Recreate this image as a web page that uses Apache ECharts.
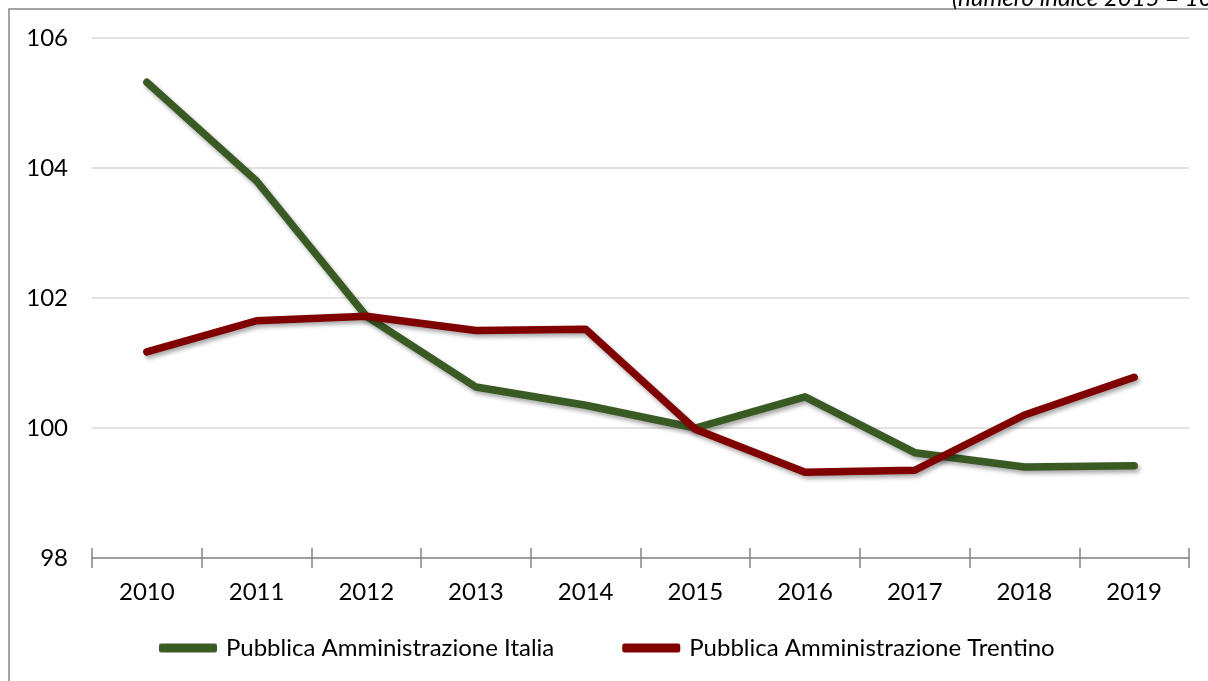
<!DOCTYPE html>
<html>
<head>
<meta charset="utf-8">
<script src="https://cdn.jsdelivr.net/npm/echarts@6/dist/echarts.min.js"></script>
<style>
  html, body { margin: 0; padding: 0; background: #fff; }
  #chart { width: 1208px; height: 681px; }
</style>
</head>
<body>
<div id="chart"></div>
<script>
// anni
var years = ['2010', '2011', '2012', '2013', '2014', '2015', '2016', '2017', '2018', '2019'];
// numero indice 2015 = 100
var italia = [105.32, 103.8, 101.72, 100.63, 100.35, 100.0, 100.48, 99.62, 99.4, 99.42];
var trentino = [101.17, 101.65, 101.72, 101.5, 101.52, 99.98, 99.32, 99.35, 100.2, 100.78];
var seriesNames = ['Pubblica Amministrazione Italia', 'Pubblica Amministrazione Trentino'];
var seriesColors = ['#3a5a24', '#800000'];
var note = '(numero indice 2015 = 100)';

var chartDom = document.getElementById('chart');
var myChart = echarts.init(chartDom);

var font = 'Lato, "Open Sans", sans-serif';

function makeLine(name, data, color) {
  return {
    name: name,
    type: 'line',
    data: data,
    symbol: 'none',
    color: color,
    lineStyle: {
      width: 7.5,
      color: color,
      cap: 'round',
      join: 'round',
      shadowColor: 'rgba(0,0,0,0.35)',
      shadowBlur: 4,
      shadowOffsetX: 2,
      shadowOffsetY: 3
    },
    animation: false
  };
}

var option = {
  backgroundColor: '#fff',
  textStyle: { fontFamily: font },
  graphic: [
    {
      type: 'rect',
      shape: { x: 9, y: 9, width: 1300, height: 800 },
      style: { fill: 'none', stroke: '#868686', lineWidth: 1.5 },
      silent: true
    },
    {
      type: 'text',
      left: 952,
      top: -14,
      style: {
        text: note,
        fontFamily: font,
        fontStyle: 'italic',
        fontSize: 24,
        fill: '#000'
      },
      silent: true
    }
  ],
  grid: { left: 92, right: 19, top: 38, bottom: 123 },
  legend: {
    top: 631,
    left: 154,
    itemWidth: 58,
    itemHeight: 9,
    itemGap: 68,
    icon: 'roundRect',
    textStyle: { fontSize: 24, color: '#000', fontFamily: font, padding: [0, 0, 0, 4] },
    data: seriesNames
  },
  xAxis: [
    {
      type: 'category',
      data: years,
      boundaryGap: true,
      axisLine: { lineStyle: { color: '#868686', width: 1.5 } },
      axisTick: { show: true, length: 10, inside: false, lineStyle: { color: '#868686', width: 1.5 } },
      axisLabel: { fontSize: 24, color: '#000', margin: 22, fontFamily: font }
    },
    {
      type: 'category',
      data: years,
      position: 'bottom',
      boundaryGap: true,
      axisLine: { show: false },
      axisTick: { show: true, length: 10, inside: true, lineStyle: { color: '#868686', width: 1.5 } },
      axisLabel: { show: false }
    }
  ],
  yAxis: {
    type: 'value',
    min: 98,
    max: 106,
    interval: 2,
    axisLine: { show: false },
    axisTick: { show: false },
    axisLabel: { fontSize: 24, color: '#000', margin: 24, fontFamily: font },
    splitLine: { lineStyle: { color: '#d9d9d9', width: 1.5 } }
  },
  series: [
    makeLine(seriesNames[0], italia, seriesColors[0]),
    makeLine(seriesNames[1], trentino, seriesColors[1])
  ]
};

option && myChart.setOption(option);
</script>
</body>
</html>
